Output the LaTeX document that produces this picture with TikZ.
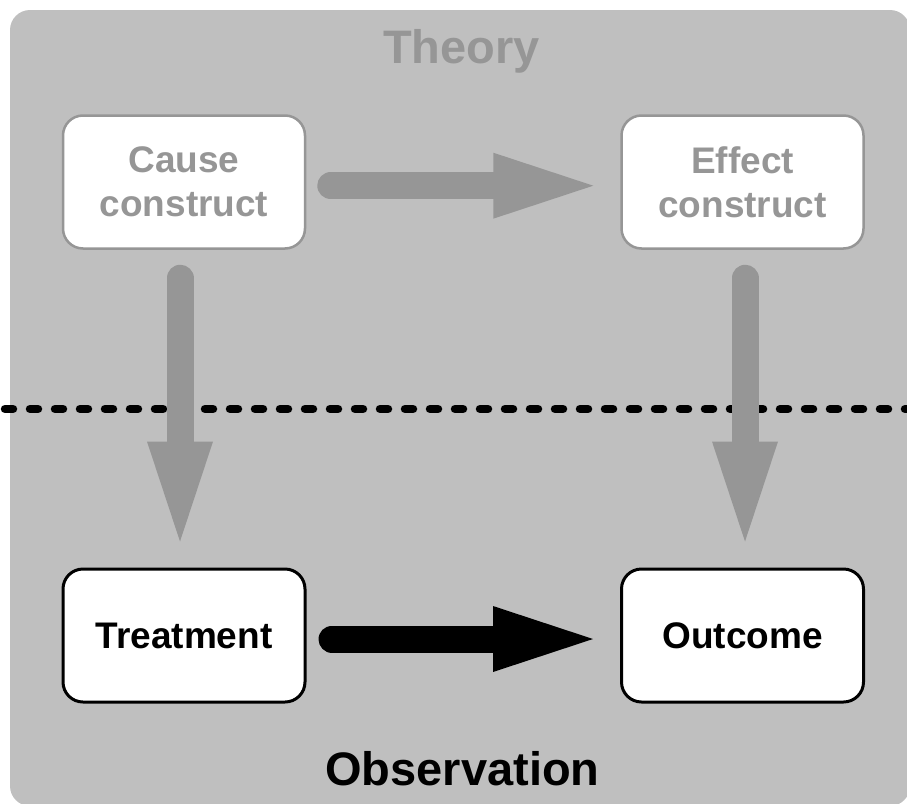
\documentclass[tikz,border=0pt]{standalone}
\usepackage{fontspec}
\setmainfont{Liberation Sans}
\usetikzlibrary{arrows.meta}
\definecolor{panel}{RGB}{191,191,191}
\definecolor{muted}{RGB}{150,150,150}
\tikzset{
  x=1pt, y=-1pt,
  box/.style={draw, fill=white, rounded corners=20pt, minimum width=242pt,
    minimum height=133pt, align=center, inner sep=0pt,
    font=\fontsize{37}{44}\selectfont\bfseries},
  theorybox/.style={box, draw=muted, line width=2.5pt, text=muted},
  obsbox/.style={box, draw=black, line width=3pt, text=black},
  fatarrow/.style={line width=27pt, line cap=round,
    -{Triangle[length=100pt,width=66pt,line width=0pt]}},
  title/.style={anchor=base, font=\fontsize{47}{56}\selectfont\bfseries},
  divider/.style={line width=8.5pt, line cap=round, dash pattern=on 8pt off 17pt}
}
\begin{document}
\begin{tikzpicture}
  \useasboundingbox (0,0) rectangle (907,803);
  \clip (0,0) rectangle (907,803);
  % panel
  \fill[panel, rounded corners=20pt] (10,10) rectangle (910,806);
  % theory / observation divider
  \coordinate (dl) at (5,409);
  \coordinate (dr) at (912,409);
  \draw[divider] (dl) -- (dr);
  % boxes
  \node[theorybox] (cause)  at (184,182)   {Cause\\construct};
  \node[theorybox] (effect) at (742.5,182) {Effect\\construct};
  \node[obsbox]    (treat)  at (184,635.5) {Treatment};
  \node[obsbox]    (outc)   at (742.5,635.5) {Outcome};
  % arrows
  \draw[fatarrow, muted] ([xshift=24.5pt,yshift=-3.7pt]cause.east) -- ([xshift=-27pt,yshift=-3.7pt]effect.west);
  \draw[fatarrow, muted] ([xshift=-4pt,yshift=-28.5pt]cause.south) -- ([xshift=-4pt,yshift=26pt]treat.north);
  \draw[fatarrow, muted] ([xshift=2.5pt,yshift=-28.5pt]effect.south) -- ([xshift=2.5pt,yshift=26pt]outc.north);
  \draw[fatarrow, black] ([xshift=25.5pt,yshift=-3.5pt]treat.east) -- ([xshift=-27pt,yshift=-3.5pt]outc.west);
  % titles
  \node[title, text=muted] (theory) at (461.5,63) {Theory};
  \node[title, text=black] (obs) at (462.5,785) {Observation};
\end{tikzpicture}
\end{document}
